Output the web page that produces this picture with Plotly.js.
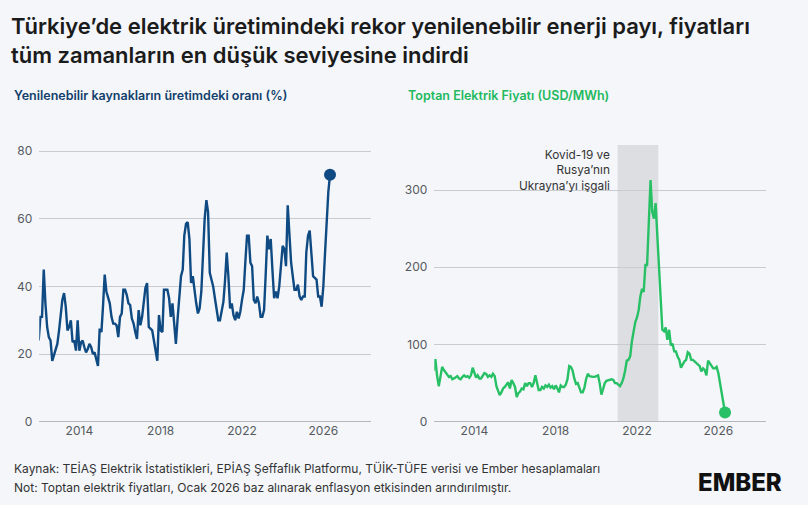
<!DOCTYPE html>
<html>
<head>
<meta charset="utf-8">
<script src="https://cdn.plot.ly/plotly-3.0.1.min.js"></script>
<style>
html,body{margin:0;padding:0;background:#f4f6fa;}
#chart{width:808px;height:505px;}
</style>
</head>
<body>
<div id="chart"></div>
<script>
// Monthly series, January 2012 onwards
const startYear = 2012;
const startMonth = 1;

const renewableShare = [
  24, 31, 31, 45, 35, 28, 25, 24, 18, 19.5, 21, 23,
  27, 32, 36, 38, 34, 27, 28, 30, 23.5, 24, 21, 30,
  21, 23.5, 24, 22, 20.5, 21.5, 23, 22, 20, 20.5, 18.5, 16.5,
  27.5, 26.5, 34, 43.5, 38.5, 37, 35, 31, 29, 29, 28.5, 25,
  31, 32, 39, 39, 37.5, 35, 34.5, 30.5, 29, 26.5, 24.5, 33,
  28.5, 31, 35, 39.5, 41, 28, 27.5, 27, 24, 20.5, 18, 31.5,
  27, 26.5, 39, 39, 39, 36.5, 31, 35, 27.5, 23, 30.5, 37.5,
  43, 45, 55, 58.5, 59, 54, 41, 43, 38.5, 35, 32, 33.5,
  38.5, 50, 60, 65.5, 62, 44, 42, 40, 36.5, 33, 30, 30,
  33.5, 35.5, 41.5, 50, 43, 33.5, 35, 31.5, 30, 32.5, 30.5, 32.5,
  36, 39, 47, 55, 55, 47, 46, 36, 35, 37, 35, 31,
  31, 33, 43, 55, 51, 54, 45, 36.5, 38.5, 36.5, 40, 45,
  52, 51, 46, 64, 54, 47, 43, 39, 39, 40.5, 37, 36,
  37, 37, 50, 55, 56.5, 50, 43, 42.5, 42, 37, 37, 34,
  40, 50, 60, 68, 73
];

const wholesalePrice = [
  66, 81, 60, 46, 58, 71, 67, 64, 61, 58, 59, 55,
  56, 58, 59, 56, 55, 58, 60, 58, 59, 57, 60, 70,
  64, 57, 60, 56, 56, 60, 63, 62, 58, 60, 58, 62,
  59, 46, 40, 34.5, 38, 43, 45, 48, 51, 43, 54, 50,
  45, 32, 37, 39, 43, 42, 50, 46, 50, 50, 45, 50,
  60, 50, 41, 41, 45, 43, 47, 45, 48, 44, 46, 42,
  47, 43, 38, 47, 45, 45, 48, 55, 72, 71, 66, 56,
  49, 50, 45, 38, 38, 44, 55, 62, 59, 58, 58, 58,
  59, 60, 50, 35, 42, 50, 53, 54, 55, 55, 54, 50,
  50, 48, 46, 50, 56, 66, 79, 80, 85, 104, 118, 129,
  135, 145, 162, 172, 168, 203, 203, 250, 313, 272, 263, 283,
  240, 205, 153, 119, 117, 122, 106, 119, 99, 101, 91, 91,
  84, 80, 70, 75, 78, 80, 90, 88, 80, 80, 78, 76,
  74, 72, 65, 69, 67, 60, 79, 75, 72, 69, 69, 71,
  63, 50, 37, 25, 12
];

const xTickYears = ['2014', '2018', '2022', '2026'];
const leftYTicks = [0, 20, 40, 60, 80];
const rightYTicks = [0, 100, 200, 300];

const eventLabel = "Kovid-19 ve<br>Rusya’nın<br>Ukrayna’yı işgali";
const eventStart = '2021-01-18';
const eventEnd = '2023-01-18';

function monthDates(n) {
  const out = [];
  for (let i = 0; i < n; i++) {
    const m0 = (startMonth - 1) + i;
    const y = startYear + Math.floor(m0 / 12);
    const m = (m0 % 12) + 1;
    out.push(y + '-' + String(m).padStart(2, '0') + '-01');
  }
  return out;
}

const datesL = monthDates(renewableShare.length);
const datesR = monthDates(wholesalePrice.length);

const BLUE = '#0f4a82';
const GREEN = '#27c065';
const FONT = 'Inter, "Noto Sans", sans-serif';
const W = 808, H = 505;
const px = v => v / W;
const py = v => 1 - v / H;

const traces = [
  {x: datesL, y: renewableShare, type: 'scatter', mode: 'lines',
   line: {color: BLUE, width: 2.4}, xaxis: 'x', yaxis: 'y'},
  {x: [datesL[datesL.length - 1]], y: [renewableShare[renewableShare.length - 1]],
   type: 'scatter', mode: 'markers', marker: {color: BLUE, size: 12},
   xaxis: 'x', yaxis: 'y'},
  {x: datesR, y: wholesalePrice, type: 'scatter', mode: 'lines',
   line: {color: GREEN, width: 2.4}, xaxis: 'x2', yaxis: 'y2'},
  {x: [datesR[datesR.length - 1]], y: [wholesalePrice[wholesalePrice.length - 1]],
   type: 'scatter', mode: 'markers', marker: {color: GREEN, size: 12},
   xaxis: 'x2', yaxis: 'y2'}
];

const xRange = ['2012-01-12', '2028-05-01'];
const tickFont = {family: FONT, size: 12, color: '#555a60'};

function xAxis(domain, anchor) {
  return {
    domain: domain, anchor: anchor, type: 'date', range: xRange,
    tickvals: xTickYears.map(y => y + '-01-01'), ticktext: xTickYears,
    showgrid: false, zeroline: false, showline: false, ticks: '',
    tickfont: tickFont, fixedrange: true
  };
}
function yAxis(domain, anchor, range, vals) {
  return {
    domain: domain, anchor: anchor, range: range, tickvals: vals,
    showgrid: true, gridcolor: '#c9cbcf', gridwidth: 1,
    zeroline: true, zerolinecolor: '#b4b7bd', zerolinewidth: 1.2,
    showline: false, ticks: '', ticklabelstandoff: 6,
    tickfont: tickFont, fixedrange: true
  };
}

const yDom = [1 - 421.7 / H, 1 - 145 / H];

const layout = {
  width: W, height: H,
  paper_bgcolor: '#f4f6fa', plot_bgcolor: '#f4f6fa',
  margin: {l: 0, r: 0, t: 0, b: 0},
  showlegend: false,
  font: {family: FONT, color: '#222'},
  title: {
    text: 'Türkiye’de elektrik üretimindeki rekor yenilenebilir enerji payı, fiyatları<br>tüm zamanların en düşük seviyesine indirdi',
    font: {family: FONT, size: 22, color: '#1b1b1b', weight: 600},
    xref: 'paper', x: px(11), xanchor: 'left',
    yref: 'container', y: py(34), yanchor: 'middle'
  },
  xaxis: xAxis([px(39.3), px(370.7)], 'y'),
  yaxis: yAxis(yDom, 'x', [0, 81.8], leftYTicks),
  xaxis2: xAxis([px(434.3), px(765.7)], 'y2'),
  yaxis2: yAxis(yDom, 'x2', [0, 358.3], rightYTicks),
  shapes: [{
    type: 'rect', xref: 'x2', yref: 'y2 domain',
    x0: eventStart, x1: eventEnd, y0: 0, y1: 1,
    fillcolor: '#dddee2', line: {width: 0}, layer: 'below'
  }],
  annotations: [
    {text: 'Yenilenebilir kaynakların üretimdeki oranı (%)', xref: 'paper', yref: 'paper',
     x: px(12), y: py(96), xanchor: 'left', yanchor: 'middle', showarrow: false,
     font: {family: FONT, size: 12.5, color: '#123f6b', weight: 600}},
    {text: 'Toptan Elektrik Fiyatı (USD/MWh)', xref: 'paper', yref: 'paper',
     x: px(406), y: py(96), xanchor: 'left', yanchor: 'middle', showarrow: false,
     font: {family: FONT, size: 12.5, color: '#22b95e', weight: 600}},
    {text: eventLabel, xref: 'paper', yref: 'paper',
     x: px(612), y: py(146), xanchor: 'right', yanchor: 'top', align: 'right', showarrow: false,
     font: {family: FONT, size: 11.8, color: '#333'}},
    {text: 'Kaynak: TEİAŞ Elektrik İstatistikleri, EPİAŞ Şeffaflık Platformu, TÜİK-TÜFE verisi ve Ember hesaplamaları',
     xref: 'paper', yref: 'paper', x: px(12), y: py(468), xanchor: 'left', yanchor: 'middle', showarrow: false,
     font: {family: FONT, size: 12, color: '#333'}},
    {text: 'Not: Toptan elektrik fiyatları, Ocak 2026 baz alınarak enflasyon etkisinden arındırılmıştır.',
     xref: 'paper', yref: 'paper', x: px(12), y: py(487), xanchor: 'left', yanchor: 'middle', showarrow: false,
     font: {family: FONT, size: 12, color: '#333'}},
    {text: 'EMBER', xref: 'paper', yref: 'paper', x: px(740), y: py(482), xanchor: 'center', yanchor: 'middle', showarrow: false,
     font: {family: FONT, size: 24, color: '#111', weight: 800}}
  ]
};

Plotly.newPlot('chart', traces, layout, {displayModeBar: false, staticPlot: true});
</script>
</body>
</html>
